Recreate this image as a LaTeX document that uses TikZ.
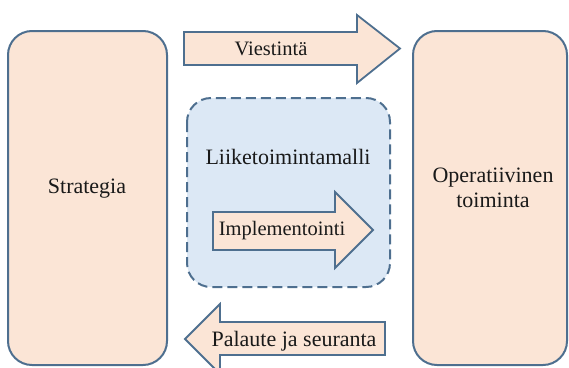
\documentclass[tikz,border=0pt]{standalone}
\usepackage{fontspec}
\setmainfont{Liberation Serif}
\newfontfamily\timesface{Liberation Serif}
\definecolor{peach}{HTML}{FBE5D6}
\definecolor{edge}{HTML}{4E6F8F}
\definecolor{paleblue}{HTML}{DCE8F5}
\begin{document}
\begin{tikzpicture}[x=1pt,y=-1pt,
  panel/.style={draw=edge, line width=2pt, fill=peach, rounded corners=24pt},
  modelbox/.style={draw=edge, line width=2pt, fill=paleblue, rounded corners=24pt,
    dash pattern=on 10pt off 5pt},
  blockarrow/.style={draw=edge, line width=1.8pt, fill=peach, line join=miter},
  txt/.style={font=\timesface\fontsize{22pt}{25pt}\selectfont, text=black!90, inner sep=0pt, align=center},
  smalltxt/.style={txt, font=\timesface\fontsize{20.5pt}{24pt}\selectfont}]
\useasboundingbox (0,0) rectangle (569,367);

% side panels
\draw[panel] (8,31) rectangle (167,365);
\draw[panel] (413,31) rectangle (567,365);

% business model area
\draw[modelbox] (187,98) rectangle (390,287);

% block arrows
\draw[blockarrow] (184,32) -- (357,32) -- (357,15) -- (400,48.5) -- (357,83) -- (357,65) -- (184,65) -- cycle;
\draw[blockarrow] (213,212) -- (335,212) -- (335,192) -- (373,230) -- (335,268) -- (335,250) -- (213,250) -- cycle;
\draw[blockarrow] (385,322) -- (220,322) -- (220,304) -- (185,339) -- (220,374) -- (220,355) -- (385,355) -- cycle;

% texts
\node[txt] (strategia) at (87,189) {Strategia};
\node[txt] (operatiivinen) at (493,188) {Operatiivinen\\toiminta};
\node[txt] (malli) at (288,157) {Liiketoimintamalli};
\node[smalltxt] (impl) at (282,231) {Implementointi};
\node[smalltxt] (viestinta) at (271,49) {Viestintä};
\node[txt] (palaute) at (294,341) {Palaute ja seuranta};
\end{tikzpicture}
\end{document}
